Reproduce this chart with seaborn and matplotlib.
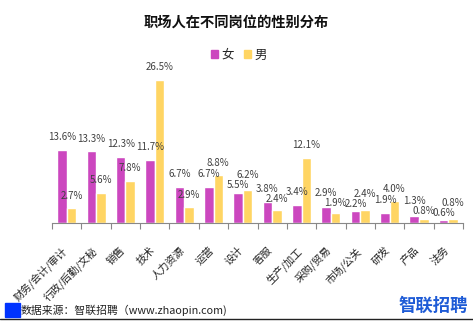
import matplotlib
matplotlib.use("Agg")
import matplotlib.pyplot as plt
import seaborn as sns
import pandas as pd
from matplotlib.patches import Rectangle
from matplotlib.lines import Line2D
from matplotlib.transforms import ScaledTranslation

categories = ["财务/会计/审计", "行政/后勤/文秘", "销售", "技术", "人力资源", "运营", "设计",
              "客服", "生产/加工", "采购/贸易", "市场/公关", "研发", "产品", "法务"]
female = [13.6, 13.3, 12.3, 11.7, 6.7, 6.7, 5.5, 3.8, 3.4, 2.9, 2.2, 1.9, 1.3, 0.6]
male = [2.7, 5.6, 7.8, 26.5, 2.9, 8.8, 6.2, 2.4, 12.1, 1.9, 2.4, 4.0, 0.8, 0.8]
series_names = ["女", "男"]
colors = ["#CC47BF", "#FFD563"]

df = pd.DataFrame({
    "岗位": categories * 2,
    "性别": [series_names[0]] * len(categories) + [series_names[1]] * len(categories),
    "占比": female + male,
})

sns.set_theme(style="white")
plt.rcParams["font.family"] = ["Noto Sans CJK SC", "DejaVu Sans"]

fig = plt.figure(figsize=(4.73, 3.25), dpi=100)
ax = fig.add_axes([0.110, 0.314, 0.869, 0.498])

sns.barplot(data=df, x="岗位", y="占比", hue="性别", palette=colors,
            width=0.65, dodge=True, gap=0, saturation=1, ax=ax, legend=False)

PAD = 5.5
label_sets = []
for cont in ax.containers:
    label_sets.append(ax.bar_label(cont, fmt="%.1f%%", padding=PAD, fontsize=7, color="#404040"))

ax.set_ylim(0, 30)
ax.set_xlim(-0.5, len(categories) - 0.5)
ax.set_xlabel("")
ax.set_ylabel("")
ax.set_yticks([])
for s in ["top", "right", "left"]:
    ax.spines[s].set_visible(False)
ax.spines["bottom"].set_color("#888888")
ax.spines["bottom"].set_linewidth(0.8)

ax.set_xticks(range(len(categories)))
ax.set_xticklabels(categories, rotation=45, ha="right", rotation_mode="anchor",
                   fontsize=7.5, color="#222222")
ax.set_xticks([i - 0.5 for i in range(len(categories) + 1)], minor=True)
ax.tick_params(axis="x", which="major", length=0, pad=16)
ax.tick_params(axis="x", which="minor", length=4, width=0.8, color="#888888", bottom=True)
shift = ScaledTranslation(-5 / 100, 0, fig.dpi_scale_trans)
for lab in ax.get_xticklabels():
    lab.set_transform(lab.get_transform() + shift)

fig.text(0.5, 1 - 23 / 325, "职场人在不同岗位的性别分布", ha="center", va="center",
         fontsize=10.3, fontweight="bold", color="#111111")

handles = [Rectangle((0, 0), 1, 1, color=c) for c in colors]
fig.legend(handles, series_names, loc="center", bbox_to_anchor=(0.505, 1 - 55 / 325),
           ncol=2, frameon=False, fontsize=9, handlelength=0.55, handleheight=0.55,
           handletextpad=0.3, columnspacing=0.8)

fig.patches.append(Rectangle((5 / 473, 1 - 317 / 325), 15 / 473, 14 / 325,
                             transform=fig.transFigure, color="#0033FF", zorder=3))
fig.text(21 / 473, 1 - 310 / 325, "数据来源：智联招聘（www.zhaopin.com)", ha="left",
         va="center", fontsize=7.8, color="#222222")
fig.lines.append(Line2D([0, 1], [1 - 319 / 325, 1 - 319 / 325], transform=fig.transFigure,
                        color="#222222", linewidth=1))
fig.text(468 / 473, 1 - 306 / 325, "智联招聘", ha="right", va="center", fontsize=12.5,
         fontweight="bold", color="#1E5BD6")

# separate label pairs that collide within a category
fig.canvas.draw()
renderer = fig.canvas.get_renderer()
px_per_pt = fig.dpi / 72.0
MIN_SEP = 10.0
for fl, ml in zip(label_sets[0], label_sets[1]):
    fy = fl.get_window_extent(renderer).y0
    my = ml.get_window_extent(renderer).y0
    diff = abs(fy - my)
    if diff < MIN_SEP:
        need = (MIN_SEP - diff) / px_per_pt
        lower, upper = (fl, ml) if fy <= my else (ml, fl)
        lower.xyann = (lower.xyann[0], lower.xyann[1] - need * 0.67)
        upper.xyann = (upper.xyann[0], upper.xyann[1] + need * 0.33)

fig.savefig("out.png", dpi=100)
